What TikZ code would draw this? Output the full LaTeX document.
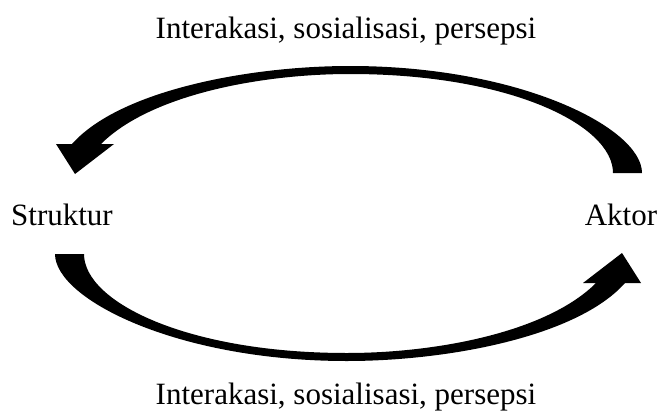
\documentclass[tikz,border=0pt]{standalone}
\usepackage{fontspec}
\setmainfont{Liberation Serif}
\usepackage{xcolor}
\definecolor{inkBlack}{HTML}{000000}
\usepackage{tikz}
\usetikzlibrary{positioning}
\tikzset{
    % Base style for all labels
    flow label/.style={
        font=\fontsize{31}{36}\selectfont,
        text=inkBlack,
        inner sep=0pt,
        anchor=base,
    },
    % Curved block arrow, drawn round the middle of the picture
    bent arrow/.pic={
        \fill[inkBlack] (264.5,-40.5)
            .. controls (264.5,-88.5) and (161.5,-139.5) .. (1.5,-139.5)
            .. controls (-88.5,-139.5) and (-198.5,-118.5) .. (-247.5,-69.5)
            -- (-234.5,-69.5) -- (-273.5,-39.5) -- (-292.5,-69.5) -- (-276.5,-69.5)
            .. controls (-228.5,-123.5) and (-98.5,-147.5) .. (1.5,-147.5)
            .. controls (171.5,-147.5) and (293.5,-85.5) .. (293.5,-40.5)
            -- cycle;
    },
}

\begin{document}
\begin{tikzpicture}[x=1pt, y=-1pt]
    \useasboundingbox (0,0) rectangle (663,412);

    \node (struktur) [flow label] at (62,225) {Struktur};
    \node (aktor) [flow label] at (621,225) {Aktor};
    \node (toplabel) [flow label] at (346,38) {Interakasi, sosialisasi, persepsi};
    \node (bottomlabel) [flow label] at (346,404) {Interakasi, sosialisasi, persepsi};

    \coordinate (middle) at (348.5,213.5);
    \pic at (middle) {bent arrow};
    \pic[rotate=180] at (middle) {bent arrow};
\end{tikzpicture}
\end{document}
